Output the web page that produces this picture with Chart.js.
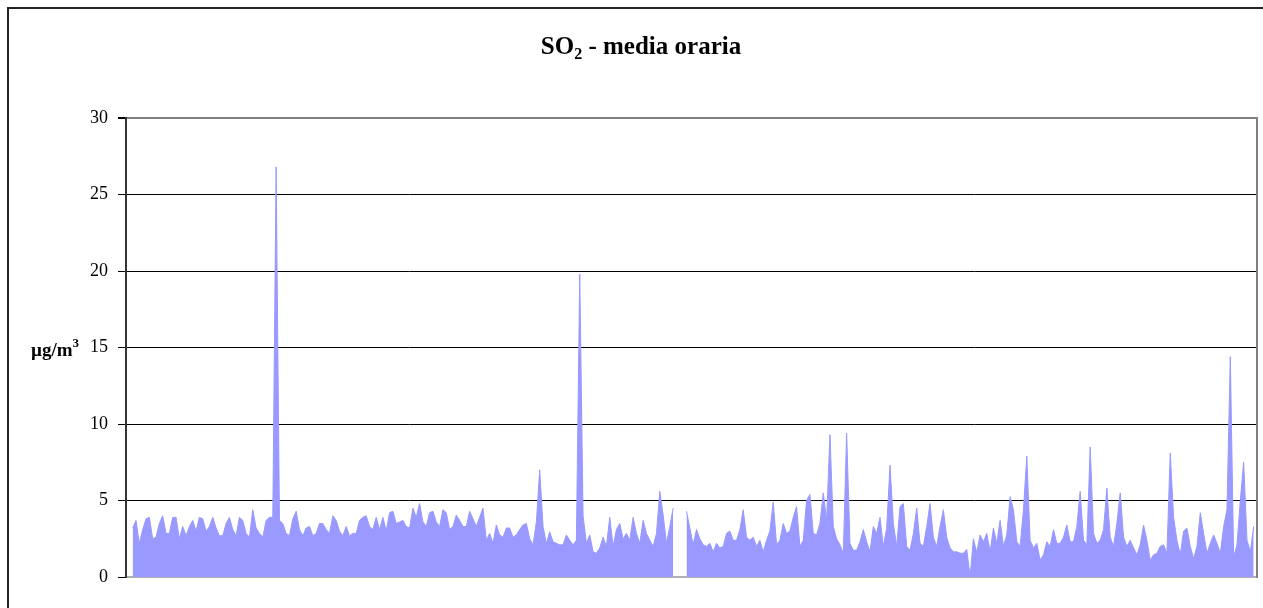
<!DOCTYPE html>
<html>
<head>
<meta charset="utf-8">
<script src="https://cdn.jsdelivr.net/npm/chart.js@4/dist/chart.umd.min.js"></script>
<style>
  html, body { margin: 0; padding: 0; background: #fff; overflow: hidden; }
  #wrap { position: relative; width: 1263px; height: 608px; }
  #frame { position: absolute; left: 7px; top: 7px; width: 1300px; height: 700px;
           border-left: 2px solid #222; border-top: 2px solid #222; box-sizing: border-box; }
  #title { position: absolute; left: 0; top: 33px; width: 1282px; text-align: center;
           font-family: 'Liberation Serif', 'Times New Roman', serif; font-weight: bold;
           font-size: 25px; line-height: 25px; color: #000; }
  #title sub { font-size: 16px; vertical-align: -5px; line-height: 0; }
  #yunit { position: absolute; left: 31px; top: 340px;
           font-family: 'Liberation Serif', 'Times New Roman', serif; font-weight: bold;
           font-size: 19px; line-height: 19px; color: #000; }
  #yunit sup { font-size: 13px; vertical-align: 9px; line-height: 0; }
  canvas { position: absolute; left: 0; top: 0; }
</style>
</head>
<body>
<div id="wrap">
  <div id="frame"></div>
  <canvas id="c" width="1263" height="608"></canvas>
  <div id="title">SO<sub>2</sub> - media oraria</div>
  <div id="yunit">µg/m<sup>3</sup></div>
</div>
<script>
const so2Values = [
  null, null, 3.2, 3.7, 2.2, 3.1, 3.8, 3.9, 2.5, 2.6,
  3.5, 4.0, 2.85, 2.85, 3.9, 3.9, 2.5, 3.3, 2.7, 3.3,
  3.7, 3.0, 3.9, 3.8, 3.0, 3.3, 3.9, 3.2, 2.7, 2.7,
  3.5, 3.9, 3.1, 2.7, 3.9, 3.7, 2.85, 2.6, 4.4, 3.2,
  2.85, 2.6, 3.7, 3.9, 3.9, 26.8, 3.7, 3.5, 2.85, 2.7,
  3.8, 4.3, 3.1, 2.7, 3.2, 3.3, 2.7, 2.85, 3.5, 3.5,
  3.1, 2.85, 4.0, 3.7, 3.0, 2.7, 3.3, 2.7, 2.85, 2.85,
  3.7, 3.9, 4.0, 3.3, 3.1, 3.9, 3.1, 3.9, 3.0, 4.2,
  4.3, 3.5, 3.6, 3.7, 3.3, 3.2, 4.5, 3.9, 4.8, 3.6,
  3.3, 4.2, 4.3, 3.6, 3.3, 4.4, 4.2, 3.1, 3.3, 4.05,
  3.7, 3.3, 3.3, 4.3, 3.8, 3.3, 3.9, 4.5, 2.4, 2.85,
  2.2, 3.4, 2.75, 2.6, 3.2, 3.2, 2.6, 2.75, 3.1, 3.4,
  3.5, 2.5, 2.1, 3.6, 7.0, 3.3, 2.2, 2.95, 2.3, 2.2,
  2.1, 2.1, 2.75, 2.4, 2.1, 2.4, 19.8, 4.0, 2.2, 2.75,
  1.65, 1.55, 1.9, 2.6, 2.0, 3.9, 2.0, 3.1, 3.5, 2.5,
  2.85, 2.4, 3.9, 2.85, 2.2, 3.7, 2.85, 2.4, 2.0, 2.85,
  5.6, 4.05, 2.2, 3.3, 4.5, null, null, null, 4.3, 3.2,
  2.1, 3.1, 2.5, 2.1, 2.0, 2.2, 1.65, 2.2, 1.9, 2.0,
  2.85, 3.0, 2.4, 2.4, 3.1, 4.4, 2.6, 2.4, 2.6, 2.0,
  2.4, 1.65, 2.4, 3.0, 4.9, 2.1, 2.4, 3.5, 2.85, 3.0,
  3.9, 4.6, 2.0, 2.4, 5.0, 5.4, 2.85, 2.75, 3.5, 5.5,
  3.7, 9.3, 3.3, 2.5, 2.1, 1.55, 9.4, 2.2, 1.75, 1.75,
  2.3, 3.1, 2.3, 1.65, 3.3, 2.85, 3.9, 2.0, 3.2, 7.3,
  3.5, 2.0, 4.6, 4.8, 2.0, 1.75, 2.85, 4.5, 2.2, 2.0,
  3.3, 4.8, 2.6, 2.0, 3.3, 4.4, 2.6, 1.9, 1.65, 1.65,
  1.55, 1.55, 1.8, 0, 2.5, 1.6, 2.75, 2.3, 2.85, 1.65,
  3.2, 2.2, 3.7, 2.0, 2.75, 5.25, 4.4, 2.3, 2.0, 4.4,
  7.9, 2.4, 1.9, 2.2, 1.1, 1.45, 2.3, 2.0, 3.1, 2.2,
  2.2, 2.6, 3.4, 2.3, 2.3, 3.3, 5.6, 2.4, 2.1, 8.5,
  2.85, 2.2, 2.4, 3.1, 5.8, 2.6, 2.0, 3.5, 5.5, 2.6,
  2.0, 2.4, 1.9, 1.45, 2.1, 3.4, 2.4, 1.1, 1.45, 1.55,
  2.0, 2.1, 1.55, 8.1, 3.9, 2.4, 1.45, 3.0, 3.2, 2.0,
  1.2, 2.0, 4.2, 2.85, 1.55, 2.2, 2.75, 2.2, 1.55, 3.3,
  4.4, 14.4, 1.3, 2.1, 5.0, 7.5, 2.4, 1.65, 3.3, null
];
// Sample positions along the year (sequence numbers)
const categories = so2Values.map((_, i) => String(i + 1));
// Y axis ticks
const yTickValues = [0, 5, 10, 15, 20, 25, 30];

const serif = "'Liberation Serif', 'Times New Roman', serif";

new Chart(document.getElementById('c'), {
  type: 'line',
  data: {
    labels: categories,
    datasets: [{
      label: 'SO2',
      data: so2Values,
      fill: 'origin',
      backgroundColor: '#9999ff',
      borderColor: '#9999ff',
      borderWidth: 1,
      pointRadius: 0,
      pointHoverRadius: 0,
      tension: 0,
      spanGaps: false
    }]
  },
  options: {
    responsive: false,
    animation: false,
    devicePixelRatio: 1,
    layout: { padding: { top: 118, left: 0, right: 0, bottom: 0 } },
    plugins: { legend: { display: false }, title: { display: false }, tooltip: { enabled: false } },
    scales: {
      x: {
        type: 'category',
        offset: false,
        ticks: { display: false },
        grid: { display: false, drawTicks: false },
        border: { display: true, color: '#b0b0b0', width: 2 },
        afterFit: (s) => { s.height = 31; }
      },
      y: {
        position: 'left',
        min: 0, max: 30,
        z: 1,
        afterBuildTicks: (s) => { s.ticks = yTickValues.map(v => ({ value: v })); },
        ticks: {
          color: '#000',
          padding: 10,
          font: { family: serif, size: 18 },
          callback: (v) => String(v)
        },
        grid: {
          drawTicks: true,
          tickLength: 8,
          tickColor: '#000',
          color: (ctx) => ctx.tick && ctx.tick.value === 30 ? '#808080' : (ctx.tick && ctx.tick.value === 0 ? '#b0b0b0' : '#000'),
          lineWidth: (ctx) => ctx.tick && ctx.tick.value === 30 ? 2 : 1
        },
        border: { display: true, color: '#333', width: 2 },
        afterFit: (s) => { s.width = 126; }
      },
      yRight: {
        position: 'right',
        min: 0, max: 30,
        ticks: { display: false },
        grid: { display: false, drawTicks: false },
        border: { display: true, color: '#808080', width: 2 },
        afterFit: (s) => { s.width = 6; }
      }
    }
  }
});
</script>
</body>
</html>
